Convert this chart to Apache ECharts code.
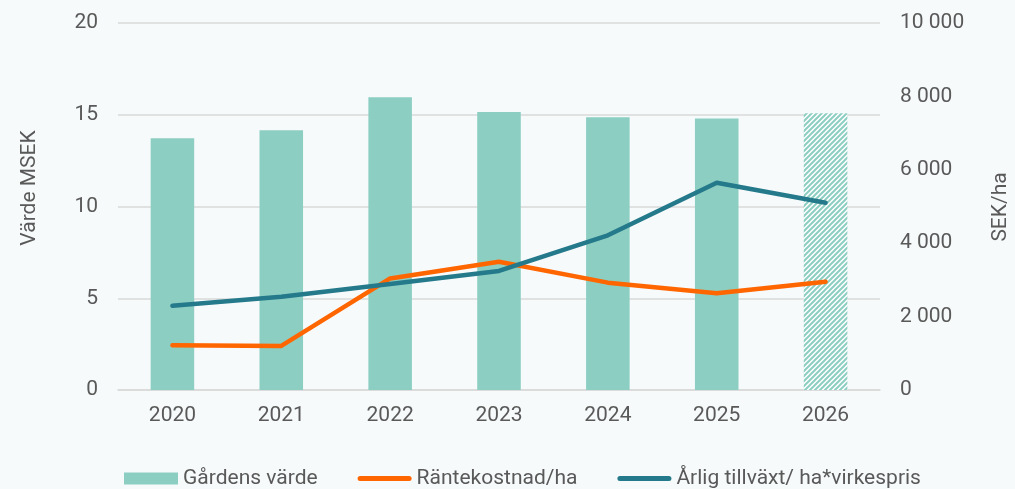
<!DOCTYPE html>
<html>
<head>
<meta charset="utf-8">
<script src="https://cdn.jsdelivr.net/npm/echarts@6/dist/echarts.min.js"></script>
<style>
html,body{margin:0;padding:0;background:#f6fafb;}
#chart{width:1015px;height:489px;}
</style>
</head>
<body>
<div id="chart"></div>
<script>
const categories = ['2020','2021','2022','2023','2024','2025','2026'];
const gardensVarde = [13.72, 14.15, 15.95, 15.15, 14.86, 14.79, 15.08];
const rantekostnad = [1220, 1200, 3040, 3495, 2925, 2635, 2950];
const arligTillvaxt = [2297, 2542, 2888, 3243, 4215, 5649, 5104];
const forecastIndex = 6;

const barColor = '#8ccec2';
const textColor = '#595959';
const font = 'Roboto';
const fs = 21;

function hatch() {
  const n = 5;
  const c = document.createElement('canvas');
  c.width = n; c.height = n;
  const g = c.getContext('2d');
  g.fillStyle = '#ffffff';
  g.fillRect(0, 0, n, n);
  g.strokeStyle = barColor;
  g.lineWidth = 2;
  g.beginPath();
  g.moveTo(-1, n + 1); g.lineTo(n + 1, -1);
  g.moveTo(-1, 1); g.lineTo(1, -1);
  g.moveTo(n - 1, n + 1); g.lineTo(n + 1, n - 1);
  g.stroke();
  return c;
}

const barData = gardensVarde.map((v, i) => i === forecastIndex
  ? { value: v, itemStyle: { color: { image: hatch(), repetition: 'repeat' } } }
  : v);

const fmt = v => String(v).replace(/\B(?=(\d{3})+(?!\d))/g, ' ');
const lineIcon = 'path://M2.5,0 H51.5 A2.5,2.5 0 0 1 51.5,5 H2.5 A2.5,2.5 0 0 1 2.5,0 Z';

const chart = echarts.init(document.getElementById('chart'));
chart.setOption({
  backgroundColor: '#f6fafb',
  textStyle: { fontFamily: font },
  grid: { left: 118, right: 135, top: 23, bottom: 99 },
  legend: {
    left: 119, top: 463,
    itemWidth: 54, itemHeight: 12, itemGap: 40,
    textStyle: { color: textColor, fontSize: fs, fontFamily: font },
    data: [
      { name: 'Gårdens värde', icon: 'rect' },
      { name: 'Räntekostnad/ha', icon: lineIcon },
      { name: 'Årlig tillväxt/ ha*virkespris', icon: lineIcon }
    ]
  },
  xAxis: {
    type: 'category',
    data: categories,
    axisTick: { show: false },
    axisLine: { lineStyle: { color: '#d9d9d9', width: 1.5 } },
    axisLabel: { color: textColor, fontSize: fs, margin: 15, fontFamily: font }
  },
  yAxis: [
    {
      type: 'value', min: 0, max: 20, interval: 5,
      axisLabel: { color: textColor, fontSize: fs, margin: 20, fontFamily: font },
      splitLine: { lineStyle: { color: '#d9d9d9', width: 1.5 } },
      axisLine: { show: false }, axisTick: { show: false }
    },
    {
      type: 'value', min: 0, max: 10000, interval: 2000,
      axisLabel: { color: textColor, fontSize: fs, margin: 20, fontFamily: font, formatter: fmt },
      splitLine: { show: false },
      axisLine: { show: false }, axisTick: { show: false }
    }
  ],
  graphic: [
    {
      type: 'text', x: 30, y: 188, rotation: Math.PI / 2,
      style: { text: 'Värde MSEK', fill: textColor, font: fs + 'px Roboto', align: 'center', verticalAlign: 'middle' }
    },
    {
      type: 'text', x: 1001, y: 207, rotation: Math.PI / 2,
      style: { text: 'SEK/ha', fill: textColor, font: fs + 'px Roboto', align: 'center', verticalAlign: 'middle' }
    }
  ],
  series: [
    {
      name: 'Gårdens värde', type: 'bar', yAxisIndex: 0,
      barWidth: '40%',
      itemStyle: { color: barColor },
      data: barData
    },
    {
      name: 'Räntekostnad/ha', type: 'line', yAxisIndex: 1,
      symbol: 'none', color: '#ff6600',
      lineStyle: { width: 4.5, cap: 'round', join: 'round' },
      data: rantekostnad
    },
    {
      name: 'Årlig tillväxt/ ha*virkespris', type: 'line', yAxisIndex: 1,
      symbol: 'none', color: '#24798a',
      lineStyle: { width: 4.5, cap: 'round', join: 'round' },
      data: arligTillvaxt
    }
  ]
});
</script>
</body>
</html>
